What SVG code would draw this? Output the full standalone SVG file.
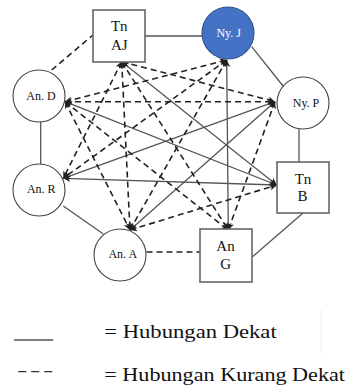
<svg xmlns="http://www.w3.org/2000/svg" width="349" height="386" viewBox="0 0 349 386">
<style>
.bg{fill:#ffffff}
.box{fill:#ffffff;stroke:#666666;stroke-width:1.6}
.circ{fill:#ffffff;stroke:#444444;stroke-width:1.1}
.blue{fill:#4472C4;stroke:#2F528F;stroke-width:1.1}
.lbl{font-family:"Liberation Serif","Times New Roman",serif;font-size:12px;fill:#111111;text-anchor:middle}
.wlbl{font-family:"Liberation Serif","Times New Roman",serif;font-size:12px;fill:#ffffff;text-anchor:middle}
.blbl{font-family:"Liberation Serif","Times New Roman",serif;font-size:15px;fill:#111111;text-anchor:middle}
.leg{font-family:"Liberation Serif","Times New Roman",serif;font-size:19px;fill:#111111}
.solid{stroke:#555555;stroke-width:1.3;fill:none}
.dash{stroke:#222222;stroke-width:1.6;stroke-dasharray:6 4;fill:none}
.arr{marker-start:url(#ah);marker-end:url(#ah)}
</style>
<defs>
<marker id="ah" markerUnits="userSpaceOnUse" markerWidth="8" markerHeight="8" refX="7" refY="3.5" orient="auto-start-reverse">
<path d="M0,0 L7,3.5 L0,7 L2,3.5 z" fill="#222222"/>
</marker>
</defs>
<rect class="bg" x="0" y="0" width="349" height="386"/>
<g id="connectors">
<line class="solid" x1="145" y1="36" x2="202" y2="36"/>
<line class="solid" x1="251.7" y1="46.7" x2="283" y2="86"/>
<line class="solid" x1="299" y1="129" x2="299" y2="162"/>
<line class="solid" x1="303.3" y1="212.7" x2="252.5" y2="256.7"/>
<line class="dash" x1="146.5" y1="252" x2="200" y2="252"/>
<line class="solid" x1="63.3" y1="206" x2="103.3" y2="234"/>
<line class="solid" x1="40.7" y1="121.7" x2="40.7" y2="164"/>
<line class="dash" x1="51.7" y1="70" x2="93" y2="35"/>
<line class="solid arr" x1="121.7" y1="61.7" x2="276.7" y2="185"/>
<line class="solid arr" x1="65" y1="101.7" x2="276.7" y2="185"/>
<line class="solid arr" x1="63.3" y1="178.3" x2="276.7" y2="185"/>
<line class="solid arr" x1="63.3" y1="178.3" x2="275" y2="101.7"/>
<line class="solid arr" x1="130" y1="230" x2="275" y2="101.7"/>
<line class="solid arr" x1="226.7" y1="60" x2="228.3" y2="230"/>
<line class="dash arr" x1="65" y1="101.7" x2="275" y2="101.7"/>
<line class="dash arr" x1="121.7" y1="61.7" x2="275" y2="101.7"/>
<line class="dash arr" x1="65" y1="101.7" x2="226.7" y2="60"/>
<line class="dash arr" x1="121.7" y1="61.7" x2="63.3" y2="178.3"/>
<line class="dash arr" x1="121.7" y1="61.7" x2="130" y2="230"/>
<line class="dash arr" x1="121.7" y1="61.7" x2="228.3" y2="230"/>
<line class="dash arr" x1="226.7" y1="60" x2="63.3" y2="178.3"/>
<line class="dash arr" x1="226.7" y1="60" x2="130" y2="230"/>
<line class="dash arr" x1="275" y1="101.7" x2="228.3" y2="230"/>
<line class="dash arr" x1="65" y1="101.7" x2="130" y2="230"/>
<line class="dash arr" x1="65" y1="101.7" x2="228.3" y2="230"/>
<line class="dash arr" x1="130" y1="230" x2="276.7" y2="185"/>
</g>
<g id="node-tn-aj">
<rect class="box" x="93" y="10" width="52" height="52"/>
<text class="blbl" x="119.3" y="31">Tn</text>
<text class="blbl" x="119.3" y="50">AJ</text>
</g>
<g id="node-ny-j">
<circle class="blue" cx="228" cy="33" r="26"/>
<text class="wlbl" x="228.7" y="36.5">Ny. J</text>
</g>
<g id="node-ny-p">
<circle class="circ" cx="303" cy="103" r="26"/>
<text class="lbl" x="306" y="106.5">Ny. P</text>
</g>
<g id="node-an-d">
<circle class="circ" cx="39" cy="96" r="26"/>
<text class="lbl" x="41" y="100">An. D</text>
</g>
<g id="node-an-r">
<circle class="circ" cx="39" cy="190" r="26"/>
<text class="lbl" x="41.3" y="193">An. R</text>
</g>
<g id="node-an-a">
<circle class="circ" cx="120" cy="255" r="26"/>
<text class="lbl" x="122.8" y="258">An. A</text>
</g>
<g id="node-tn-b">
<rect class="box" x="277" y="162" width="52" height="51"/>
<text class="blbl" x="303" y="183.5">Tn</text>
<text class="blbl" x="302.5" y="201">B</text>
</g>
<g id="node-an-g">
<rect class="box" x="200" y="229" width="52" height="53"/>
<text class="blbl" x="225.5" y="250.5">An</text>
<text class="blbl" x="225.7" y="268.5">G</text>
</g>
<g id="legend">
<line x1="14" y1="340" x2="53.3" y2="340" stroke="#555555" stroke-width="1.3"/>
<line x1="18.3" y1="371.7" x2="53.3" y2="371.7" stroke="#333333" stroke-width="1.3" stroke-dasharray="8 5"/>
<line x1="321" y1="310" x2="321" y2="353" stroke="#eeeeee" stroke-width="1"/>
<text class="leg" x="104.3" y="337.7" textLength="172.4" lengthAdjust="spacingAndGlyphs">= Hubungan Dekat</text>
<text class="leg" x="104.3" y="380.7" textLength="240.7" lengthAdjust="spacingAndGlyphs">= Hubungan Kurang Dekat</text>
</g>
</svg>
